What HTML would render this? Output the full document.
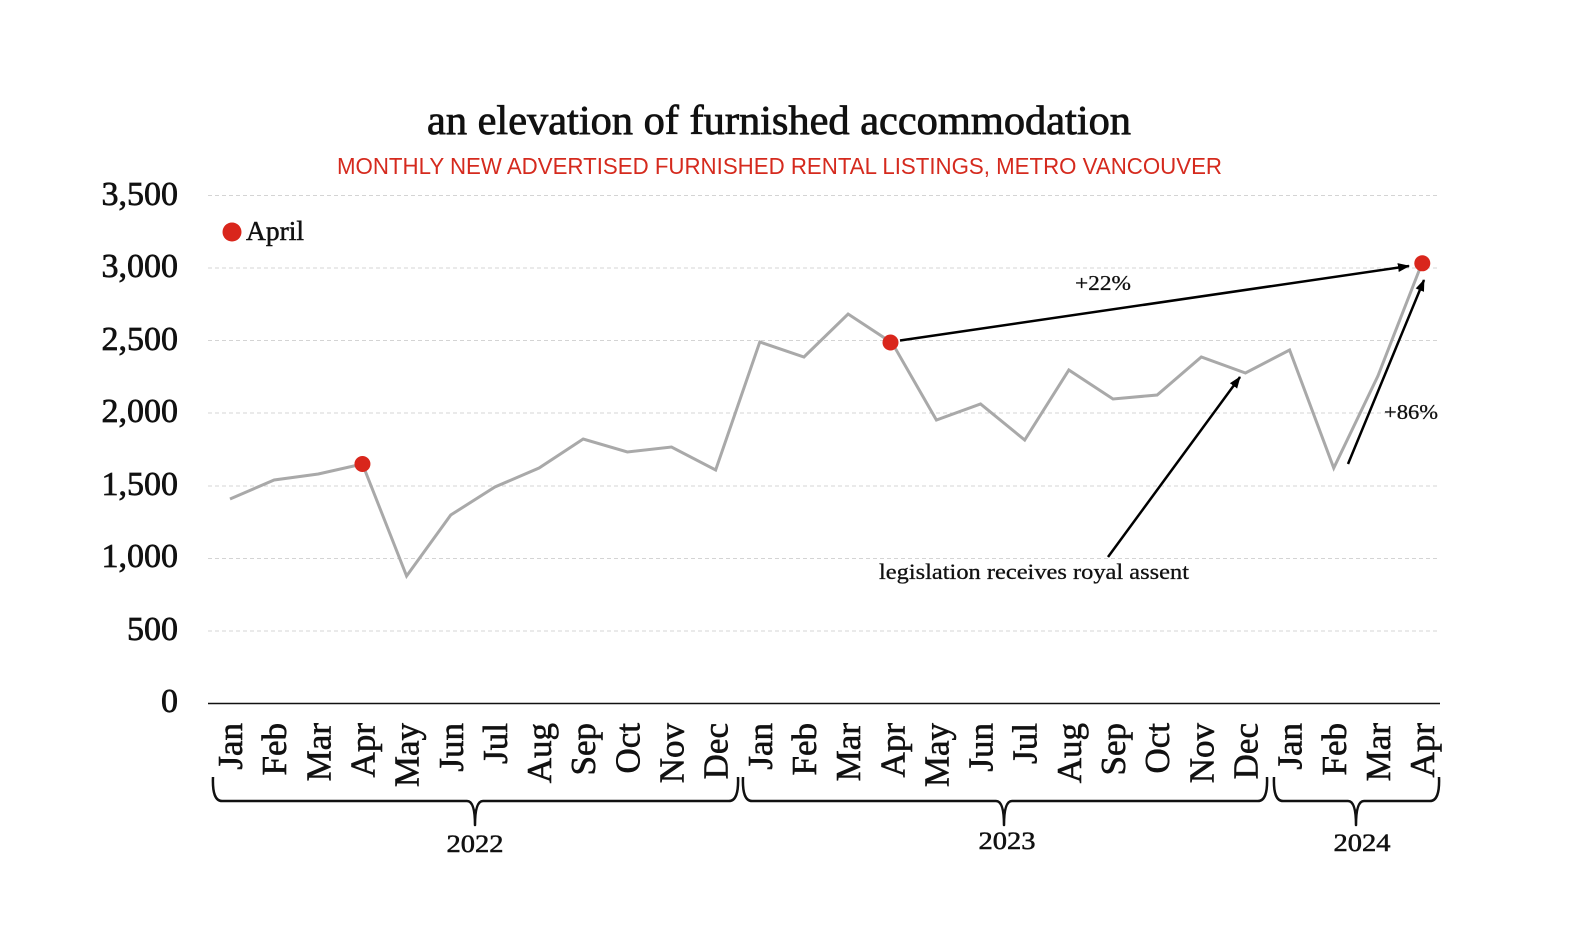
<!DOCTYPE html>
<html>
<head>
<meta charset="utf-8">
<style>
  html, body { margin:0; padding:0; background:#fff; }
  svg { display:block; }
  .serif { font-family: "Liberation Serif", serif; fill:#111; }
  .sans { font-family: "Liberation Sans", sans-serif; }
</style>
</head>
<body>
<svg width="1572" height="949" viewBox="0 0 1572 949" xmlns="http://www.w3.org/2000/svg">
  <defs>
    <marker id="ah" markerWidth="12" markerHeight="10" refX="11" refY="5" orient="auto" markerUnits="userSpaceOnUse">
      <path d="M0,0.5 L12,5 L0,9.5 z" fill="#000"/>
    </marker>
  </defs>
  <rect width="1572" height="949" fill="#fff"/>

  <!-- Title -->
  <text class="serif" x="779" y="134" font-size="41" text-anchor="middle" textLength="704" lengthAdjust="spacingAndGlyphs" stroke="#111" stroke-width="0.8">an elevation of furnished accommodation</text>
  <text class="sans" x="779.5" y="174" font-size="23" fill="#d52a1e" text-anchor="middle" textLength="885" lengthAdjust="spacingAndGlyphs">MONTHLY NEW ADVERTISED FURNISHED RENTAL LISTINGS, METRO VANCOUVER</text>

  <!-- Gridlines -->
  <g stroke="#d4d4d4" stroke-width="1" stroke-dasharray="4,3">
    <line x1="208" y1="195.5" x2="1440" y2="195.5"/>
    <line x1="208" y1="268" x2="1440" y2="268"/>
    <line x1="208" y1="340.5" x2="1440" y2="340.5"/>
    <line x1="208" y1="413" x2="1440" y2="413"/>
    <line x1="208" y1="486" x2="1440" y2="486"/>
    <line x1="208" y1="558.5" x2="1440" y2="558.5"/>
    <line x1="208" y1="631" x2="1440" y2="631"/>
  </g>
  <line x1="208" y1="703.5" x2="1440" y2="703.5" stroke="#111" stroke-width="1.6"/>

  <!-- Y tick labels -->
  <g class="serif" font-size="34" text-anchor="end" stroke="#111" stroke-width="0.7">
    <text x="178" y="205">3,500</text>
    <text x="178" y="277">3,000</text>
    <text x="178" y="350">2,500</text>
    <text x="178" y="422">2,000</text>
    <text x="178" y="495">1,500</text>
    <text x="178" y="567">1,000</text>
    <text x="178" y="640">500</text>
    <text x="178" y="712">0</text>
  </g>

  <!-- Legend -->
  <circle cx="232" cy="232" r="9.5" fill="#d9261c"/>
  <text class="serif" x="246" y="240" font-size="27" textLength="58" lengthAdjust="spacingAndGlyphs" stroke="#111" stroke-width="0.5">April</text>

  <!-- Series -->
  <polyline fill="none" stroke="#a9a9a9" stroke-width="3" stroke-linejoin="miter"
    points="230,499 274.15,480 318.3,474 362.45,464 406.6,576 450.75,515 494.9,487 539.05,468 583.2,439 627.35,452 671.5,447 715.65,470 759.8,342 803.95,357 848.1,314 892.25,343 936.4,420 980.55,404 1024.7,440 1068.85,370 1113,399 1157.15,395 1201.3,357 1245.45,373 1289.6,350 1333.75,468 1377.9,376 1422.05,263"/>

  <!-- April dots -->
  <circle cx="362.45" cy="464" r="8" fill="#d9261c"/>
  <circle cx="890.5" cy="342.5" r="8" fill="#d9261c"/>
  <circle cx="1422.3" cy="263.3" r="8" fill="#d9261c"/>

  <!-- Arrows -->
  <g stroke="#000" stroke-width="2.5" fill="none">
    <line x1="900" y1="340.5" x2="1409" y2="266" marker-end="url(#ah)"/>
    <line x1="1348" y1="464" x2="1424" y2="280" marker-end="url(#ah)"/>
    <line x1="1108" y1="557" x2="1240" y2="377" marker-end="url(#ah)"/>
  </g>
  <g class="serif" font-size="21" stroke="#111" stroke-width="0.3">
    <text x="1075" y="290" textLength="56" lengthAdjust="spacingAndGlyphs">+22%</text>
    <text x="1384" y="419" textLength="54" lengthAdjust="spacingAndGlyphs">+86%</text>
    <text x="879" y="579" font-size="22" textLength="310" lengthAdjust="spacingAndGlyphs">legislation receives royal assent</text>
  </g>

  <!-- Month labels -->
  <g class="serif" font-size="35" text-anchor="end" stroke="#111" stroke-width="0.6">
    <text transform="translate(242,723) rotate(-90)">Jan</text>
    <text transform="translate(286.15,723) rotate(-90)">Feb</text>
    <text transform="translate(330.3,723) rotate(-90)">Mar</text>
    <text transform="translate(374.45,723) rotate(-90)">Apr</text>
    <text transform="translate(418.6,723) rotate(-90)">May</text>
    <text transform="translate(462.75,723) rotate(-90)">Jun</text>
    <text transform="translate(506.9,723) rotate(-90)">Jul</text>
    <text transform="translate(551.05,723) rotate(-90)">Aug</text>
    <text transform="translate(595.2,723) rotate(-90)">Sep</text>
    <text transform="translate(639.35,723) rotate(-90)">Oct</text>
    <text transform="translate(683.5,723) rotate(-90)">Nov</text>
    <text transform="translate(727.65,723) rotate(-90)">Dec</text>
    <text transform="translate(771.8,723) rotate(-90)">Jan</text>
    <text transform="translate(815.95,723) rotate(-90)">Feb</text>
    <text transform="translate(860.1,723) rotate(-90)">Mar</text>
    <text transform="translate(904.25,723) rotate(-90)">Apr</text>
    <text transform="translate(948.4,723) rotate(-90)">May</text>
    <text transform="translate(992.55,723) rotate(-90)">Jun</text>
    <text transform="translate(1036.7,723) rotate(-90)">Jul</text>
    <text transform="translate(1080.85,723) rotate(-90)">Aug</text>
    <text transform="translate(1125,723) rotate(-90)">Sep</text>
    <text transform="translate(1169.15,723) rotate(-90)">Oct</text>
    <text transform="translate(1213.3,723) rotate(-90)">Nov</text>
    <text transform="translate(1257.45,723) rotate(-90)">Dec</text>
    <text transform="translate(1301.6,723) rotate(-90)">Jan</text>
    <text transform="translate(1345.75,723) rotate(-90)">Feb</text>
    <text transform="translate(1389.9,723) rotate(-90)">Mar</text>
    <text transform="translate(1434.05,723) rotate(-90)">Apr</text>
  </g>

  <!-- Braces -->
  <g stroke="#111" stroke-width="2.5" fill="none" stroke-linejoin="round">
    <path d="M213,777 Q212,801 222,801 L467,801 Q475,801 475,825 Q475,801 483,801 L729,801 Q739,801 738,777"/>
    <path d="M743,777 Q742,801 752,801 L996,801 Q1004,801 1004,825 Q1004,801 1012,801 L1258,801 Q1268,801 1267,777"/>
    <path d="M1274,777 Q1273,801 1283,801 L1348,801 Q1356,801 1356,825 Q1356,801 1364,801 L1430,801 Q1440,801 1439,777"/>
  </g>
  <g class="serif" font-size="25" text-anchor="middle" stroke="#111" stroke-width="0.5">
    <text x="475" y="852" textLength="57" lengthAdjust="spacingAndGlyphs">2022</text>
    <text x="1007" y="849" textLength="57" lengthAdjust="spacingAndGlyphs">2023</text>
    <text x="1362" y="851" textLength="57" lengthAdjust="spacingAndGlyphs">2024</text>
  </g>
</svg>
</body>
</html>
